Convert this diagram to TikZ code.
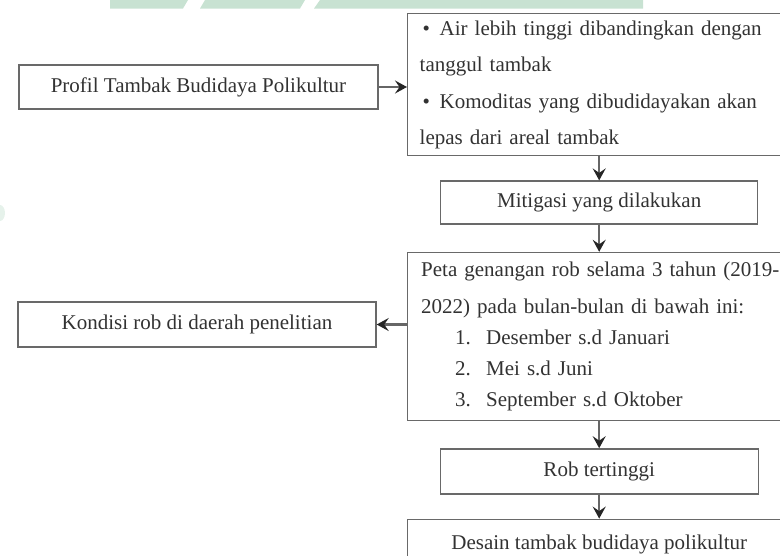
\documentclass[tikz,border=0pt]{standalone}
\usepackage{fontspec}
\setmainfont{Liberation Serif}
\usetikzlibrary{positioning, arrows.meta}
\definecolor{garis}{RGB}{105,105,105}
\definecolor{teks}{RGB}{50,50,50}
\definecolor{hijau}{RGB}{200,226,210}
\newcommand{\isi}{\fontsize{21}{36.5}\selectfont}
\tikzset{
x=1pt, y=-1pt, % one unit is one pixel of the page
>={Stealth[length=12pt, width=13pt, inset=4.5pt, color=black!85]}, % makes the arrow heads bold
kotak/.style={draw=garis, line width=1.4pt, text=teks, font=\isi, inner sep=0pt}, % every box
panah/.style={->, draw=black!60, line width=2.2pt}, % the connectors
}
\begin{document}
\begin{tikzpicture}
\useasboundingbox (0,0) rectangle (780,555);
\clip (0,0) rectangle (780,555);
% watermark band at the top
\fill[hijau] (110,0) -- (188,0) -- (183,8.5) -- (110,8.5) -- cycle;
\fill[hijau] (205,0) -- (305,0) -- (300,8.5) -- (200,8.5) -- cycle;
\fill[hijau] (320,0) -- (643,0) -- (643,8.5) -- (314,8.5) -- cycle;
\fill[hijau!45] (0,213) ellipse [x radius=5, y radius=8];

\node[kotak, minimum width=359pt, minimum height=44pt] (profil) at (198.5,87) {Profil Tambak Budidaya Polikultur};
\node[kotak, anchor=north west, minimum width=383pt, minimum height=142pt,
      text width=359pt, inner xsep=12pt, align=left] (ciri) at (407,13) {%
  \hspace*{3pt}\makebox[17pt][l]{\textbullet}\makebox[339pt][s]{Air lebih tinggi dibandingkan dengan}\\
  tanggul tambak\\
  \hspace*{3pt}\makebox[17pt][l]{\textbullet}\makebox[339pt][s]{Komoditas yang dibudidayakan akan}\\
  lepas dari areal tambak};
\node[kotak, minimum width=317pt, minimum height=43pt, below=24pt of ciri] (mitigasi) {Mitigasi yang dilakukan};
\node[kotak, minimum width=384pt, minimum height=168pt, text width=356pt, inner xsep=14pt,
      align=left, below=27pt of mitigasi] (peta) {%
  \makebox[356pt][s]{Peta genangan rob selama 3 tahun (2019-}\\
  2022) pada bulan-bulan di bawah ini:\\[-5.5pt]
  \hspace*{34pt}\makebox[31pt][l]{1.}Desember s.d Januari\\[-5.5pt]
  \hspace*{34pt}\makebox[31pt][l]{2.}Mei s.d Juni\\[-5.5pt]
  \hspace*{34pt}\makebox[31pt][l]{3.}September s.d Oktober};
\node[kotak, minimum width=358pt, minimum height=45pt] (kondisi) at (197,324.5) {Kondisi rob di daerah penelitian};
\node[kotak, minimum width=318pt, minimum height=45pt, below=27pt of peta] (rob) {Rob tertinggi};
\node[kotak, minimum width=384pt, minimum height=50pt, below=24pt of rob] (desain) {Desain tambak budidaya polikultur};

\draw[panah] (profil.east) -- (profil.east -| ciri.west);
\draw[panah] (ciri.south) -- (ciri.south |- mitigasi.north);
\draw[panah] (mitigasi.south) -- (mitigasi.south |- peta.north);
\draw[panah] (kondisi.east -| peta.west) -- (kondisi.east);
\draw[panah] (peta.south) -- (peta.south |- rob.north);
\draw[panah] (rob.south) -- (rob.south |- desain.north);
\end{tikzpicture}
\end{document}
